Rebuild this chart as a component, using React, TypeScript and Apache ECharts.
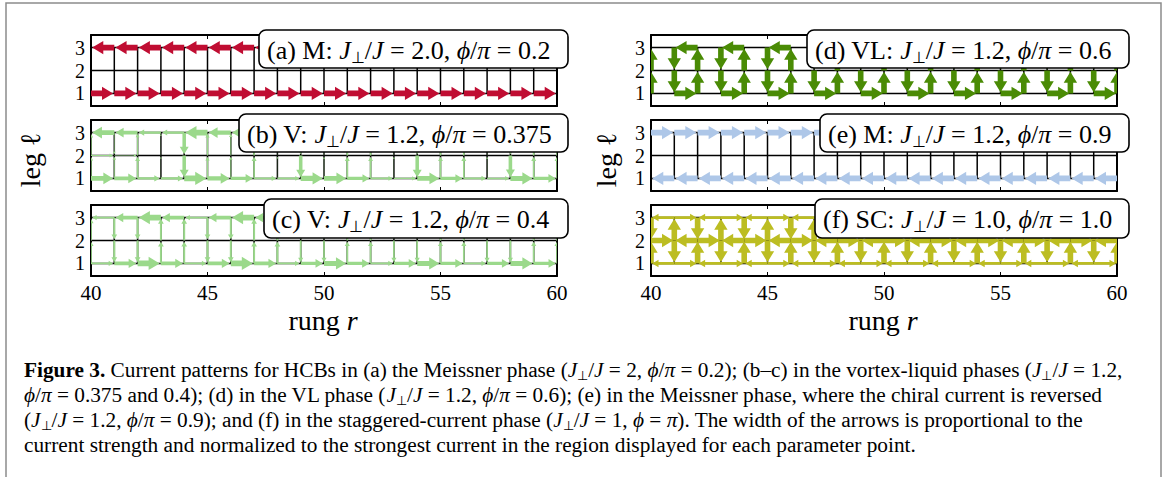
import React, { useEffect, useRef } from "react";
import * as echarts from "echarts";

// ---------- data ----------
const rungX = [40, 41, 42, 43, 44, 45, 46, 47, 48, 49, 50, 51, 52, 53, 54, 55, 56, 57, 58, 59, 60];
const bondX = [40, 41, 42, 43, 44, 45, 46, 47, 48, 49, 50, 51, 52, 53, 54, 55, 56, 57, 58, 59];
const xTickValues = [40, 45, 50, 55, 60];
const legValues = [1, 2, 3];

// (a) Meissner, J⊥/J = 2.0, φ/π = 0.2  (positive = rightward / upward)
const aLeg1 = [1, 1, 1, 1, 1, 1, 1, 1, 1, 1, 1, 1, 1, 1, 1, 1, 1, 1, 1, 1];
const aLeg2 = [0, 0, 0, 0, 0, 0, 0, 0, 0, 0, 0, 0, 0, 0, 0, 0, 0, 0, 0, 0];
const aLeg3 = [-1, -1, -1, -1, -1, -1, -1, -1, -1, -1, -1, -1, -1, -1, -1, -1, -1, -1, -1, -1];
const aRung12 = [0, 0, 0, 0, 0, 0, 0, 0, 0, 0, 0, 0, 0, 0, 0, 0, 0, 0, 0, 0, 0];
const aRung23 = [0, 0, 0, 0, 0, 0, 0, 0, 0, 0, 0, 0, 0, 0, 0, 0, 0, 0, 0, 0, 0];

// (b) V, J⊥/J = 1.2, φ/π = 0.375
const bLeg1 = [0.86, 0.69, 0.4, 0.37, 1.0, 0.77, 0.6, 0.31, 0.28, 0.91, 0.85, 0.56, 0.28, 0.24, 0.87, 0.59, 0.3, 0.26, 0.9, 0.61];
const bLeg2 = [0.2, 0.1, 0, 0, 0, 0, 0, 0, 0, 0, 0, 0, 0, 0, 0, 0, 0, 0, 0, 0];
const bLeg3 = [-0.86, -0.69, -0.4, -0.37, -1.0, -0.77, -0.6, -0.31, -0.28, -0.91, -0.85, -0.56, -0.28, -0.24, -0.87, -0.59, -0.3, -0.26, -0.9, -0.61];
const bRung12 = [0.23, 0.17, 0.29, 0.03, -0.63, 0.23, 0.17, 0.29, 0.03, -0.63, 0.06, 0.29, 0.28, 0.04, -0.63, 0.28, 0.29, 0.04, -0.64, 0.29, 0.28];
const bRung23 = [0.23, -0.1, 0.2, 0.03, -0.63, 0.23, 0.17, 0.29, 0.03, -0.63, 0.06, 0.29, 0.28, 0.04, -0.63, 0.28, 0.29, 0.04, -0.64, 0.29, 0.28];

// (c) V, J⊥/J = 1.2, φ/π = 0.4
const cLeg1 = [0.3, 0.65, 1.0, 0.65, 0.3, 0.65, 1.0, 0.65, 0.3, 0.6, 0.9, 0.6, 0.3, 0.6, 0.9, 0.6, 0.3, 0.6, 0.9, 0.6];
const cLeg2 = [0, 0, 0, 0, 0, 0, 0, 0, 0, 0, 0, 0, 0, 0, 0, 0, 0, 0, 0, 0];
const cLeg3 = [-0.3, -0.65, -1.0, -0.65, -0.3, -0.65, -1.0, -0.65, -0.3, -0.6, -0.9, -0.6, -0.3, -0.6, -0.9, -0.6, -0.3, -0.6, -0.9, -0.6];
const cRung12 = [0.3, -0.35, -0.35, 0.35, 0.35, -0.35, -0.35, 0.35, 0.35, -0.3, -0.3, 0.3, 0.3, -0.3, -0.3, 0.3, 0.3, -0.3, -0.3, 0.3, 0.3];
const cRung23 = [0.3, -0.35, -0.35, 0.35, 0.35, -0.35, -0.35, 0.35, 0.35, -0.3, -0.3, 0.3, 0.3, -0.3, -0.3, 0.3, 0.3, -0.3, -0.3, 0.3, 0.3];

// (d) VL, J⊥/J = 1.2, φ/π = 0.6
const dLeg1 = [0, 1, 0, 1, 0, 1, 0, 1, 0, 1, 0, 1, 0, 1, 0, 1, 0, 1, 0, 1];
const dLeg2 = [0, 0, 0, 0, 0, 0, 0, 0, 0, 0, 0, 0, 0, 0, 0, 0, 0, 0, 0, 0];
const dLeg3 = [0, -1, 0, -1, 0, -1, 0, -1, 0, -1, 0, -1, 0, -1, 0, -1, 0, -1, 0, -1];
const dRung12 = [1, -1, 1, -1, 1, -1, 1, -1, 1, -1, 1, -1, 1, -1, 1, -1, 1, -1, 1, -1, 1];
const dRung23 = [1, -1, 1, -1, 1, -1, 1, -1, 1, -1, 1, -1, 1, -1, 1, -1, 1, -1, 1, -1, 1];

// (e) M (reversed chiral current), J⊥/J = 1.2, φ/π = 0.9
const eLeg1 = [-1, -1, -1, -1, -1, -1, -1, -1, -1, -1, -1, -1, -1, -1, -1, -1, -1, -1, -1, -1];
const eLeg2 = [0, 0, 0, 0, 0, 0, 0, 0, 0, 0, 0, 0, 0, 0, 0, 0, 0, 0, 0, 0];
const eLeg3 = [1, 1, 1, 1, 1, 1, 1, 1, 1, 1, 1, 1, 1, 1, 1, 1, 1, 1, 1, 1];
const eRung12 = [0, 0, 0, 0, 0, 0, 0, 0, 0, 0, 0, 0, 0, 0, 0, 0, 0, 0, 0, 0, 0];
const eRung23 = [0, 0, 0, 0, 0, 0, 0, 0, 0, 0, 0, 0, 0, 0, 0, 0, 0, 0, 0, 0, 0];

// (f) SC, J⊥/J = 1.0, φ/π = 1.0
const fLeg1 = [-0.5, 0.5, -0.5, 0.5, -0.5, 0.5, -0.5, 0.5, -0.5, 0.5, -0.5, 0.5, -0.5, 0.5, -0.5, 0.5, -0.5, 0.5, -0.5, 0.5];
const fLeg2 = [1, -1, 1, -1, 1, -1, 1, -1, 1, -1, 1, -1, 1, -1, 1, -1, 1, -1, 1, -1];
const fLeg3 = [-0.5, 0.5, -0.5, 0.5, -0.5, 0.5, -0.5, 0.5, -0.5, 0.5, -0.5, 0.5, -0.5, 0.5, -0.5, 0.5, -0.5, 0.5, -0.5, 0.5];
const fRung12 = [1, -1, 1, -1, 1, -1, 1, -1, 1, -1, 1, -1, 1, -1, 1, -1, 1, -1, 1, -1, 1];
const fRung23 = [-1, 1, -1, 1, -1, 1, -1, 1, -1, 1, -1, 1, -1, 1, -1, 1, -1, 1, -1, 1, -1];

const panelLabels = [
  "{n|(a) M: }{i|J}{s|⊥}{n|/}{i|J}{n| = 2.0, }{i|ϕ}{n|/}{i|π}{n| = 0.2}",
  "{n|(b) V: }{i|J}{s|⊥}{n|/}{i|J}{n| = 1.2, }{i|ϕ}{n|/}{i|π}{n| = 0.375}",
  "{n|(c) V: }{i|J}{s|⊥}{n|/}{i|J}{n| = 1.2, }{i|ϕ}{n|/}{i|π}{n| = 0.4}",
  "{n|(d) VL: }{i|J}{s|⊥}{n|/}{i|J}{n| = 1.2, }{i|ϕ}{n|/}{i|π}{n| = 0.6}",
  "{n|(e) M: }{i|J}{s|⊥}{n|/}{i|J}{n| = 1.2, }{i|ϕ}{n|/}{i|π}{n| = 0.9}",
  "{n|(f) SC: }{i|J}{s|⊥}{n|/}{i|J}{n| = 1.0, }{i|ϕ}{n|/}{i|π}{n| = 1.0}",
];

const captionLines = [
  "{b|Figure 3.}{n| Current patterns for HCBs in (a) the Meissner phase (}{i|J}{s|⊥}{n|/}{i|J}{n| = 2, }{i|ϕ}{n|/}{i|π}{n| = 0.2); (b–c) in the vortex-liquid phases (}{i|J}{s|⊥}{n|/}{i|J}{n| = 1.2,}",
  "{i|ϕ}{n|/}{i|π}{n| = 0.375 and 0.4); (d) in the VL phase (}{i|J}{s|⊥}{n|/}{i|J}{n| = 1.2, }{i|ϕ}{n|/}{i|π}{n| = 0.6); (e) in the Meissner phase, where the chiral current is reversed}",
  "{n|(}{i|J}{s|⊥}{n|/}{i|J}{n| = 1.2, }{i|ϕ}{n|/}{i|π}{n| = 0.9); and (f) in the staggered-current phase (}{i|J}{s|⊥}{n|/}{i|J}{n| = 1, }{i|ϕ}{n| = }{i|π}{n|). The width of the arrows is proportional to the}",
  "{n|current strength and normalized to the strongest current in the region displayed for each parameter point.}",
];

const panelData = [
  { leg1: aLeg1, leg2: aLeg2, leg3: aLeg3, r12: aRung12, r23: aRung23 },
  { leg1: bLeg1, leg2: bLeg2, leg3: bLeg3, r12: bRung12, r23: bRung23 },
  { leg1: cLeg1, leg2: cLeg2, leg3: cLeg3, r12: cRung12, r23: cRung23 },
  { leg1: dLeg1, leg2: dLeg2, leg3: dLeg3, r12: dRung12, r23: dRung23 },
  { leg1: eLeg1, leg2: eLeg2, leg3: eLeg3, r12: eRung12, r23: eRung23 },
  { leg1: fLeg1, leg2: fLeg2, leg3: fLeg3, r12: fRung12, r23: fRung23 },
];

// ---------- layout / style ----------
const FONT = "Liberation Serif";
const GRID_W = 466;
const GRID_H = 71;
const layout = [
  { left: 91, top: 35, color: "#c00d32", box: [259, 30, 309, 38], bottom: false },
  { left: 91, top: 120, color: "#9bd98b", box: [239, 114, 329, 38], bottom: false },
  { left: 91, top: 205, color: "#9bd98b", box: [264, 199, 304, 39], bottom: true },
  { left: 651, top: 35, color: "#4a8b05", box: [807, 30, 322, 38], bottom: false },
  { left: 651, top: 120, color: "#aec7e8", box: [820, 114, 309, 38], bottom: false },
  { left: 651, top: 205, color: "#bcbd22", box: [815, 199, 314, 39], bottom: true },
];
const MAXW = 5.6;

function arrowRender(color: string) {
  return (_params: any, api: any) => {
    const c = api.value(4);
    if (Math.abs(c) < 0.03) return { type: "group", children: [] };
    let p0 = api.coord([api.value(0), api.value(1)]);
    let p1 = api.coord([api.value(2), api.value(3)]);
    if (c < 0) {
      const t = p0;
      p0 = p1;
      p1 = t;
    }
    const dx = p1[0] - p0[0];
    const dy = p1[1] - p0[1];
    const L = Math.hypot(dx, dy);
    const ux = dx / L;
    const uy = dy / L;
    const nx = -uy;
    const ny = ux;
    const w = MAXW * Math.abs(c);
    const hw = w / 2;
    const hh = (2.1 * w + 1.6) / 2;
    const hl = Math.min(1.7 * w + 1.6, L * 0.6);
    const tipD = L * 0.95;
    const tx = p0[0] + ux * tipD;
    const ty = p0[1] + uy * tipD;
    const bx = tx - ux * hl;
    const by = ty - uy * hl;
    const points = [
      [p0[0] + nx * hw, p0[1] + ny * hw],
      [bx + nx * hw, by + ny * hw],
      [bx + nx * hh, by + ny * hh],
      [tx, ty],
      [bx - nx * hh, by - ny * hh],
      [bx - nx * hw, by - ny * hw],
      [p0[0] - nx * hw, p0[1] - ny * hw],
    ];
    return { type: "polygon", shape: { points }, style: { fill: color } };
  };
}

function latticeRender(_params: any, api: any) {
  const p0 = api.coord([api.value(0), api.value(1)]);
  const p1 = api.coord([api.value(2), api.value(3)]);
  return {
    type: "line",
    shape: { x1: p0[0], y1: p0[1], x2: p1[0], y2: p1[1] },
    style: { stroke: "#000", lineWidth: 1.5 },
  };
}

function buildOption() {
  const grid: any[] = [];
  const xAxis: any[] = [];
  const yAxis: any[] = [];
  const series: any[] = [];
  const graphic: any[] = [];

  const latticeData: number[][] = [];
  legValues.forEach((l) => latticeData.push([rungX[0], l, rungX[rungX.length - 1], l]));
  rungX.forEach((x) => latticeData.push([x, legValues[0], x, legValues[legValues.length - 1]]));

  const richLabel = {
    n: { fontFamily: FONT, fontSize: 26, color: "#000", lineHeight: 30 },
    i: { fontFamily: FONT, fontStyle: "italic", fontSize: 26, color: "#000", lineHeight: 30 },
    s: { fontFamily: FONT, fontSize: 16, color: "#000", lineHeight: 16, verticalAlign: "bottom" },
  };

  layout.forEach((lay, k) => {
    grid.push({ left: lay.left, top: lay.top, width: GRID_W, height: GRID_H, show: false });
    const axisLine = { show: true, onZero: false, lineStyle: { color: "#000", width: 2 } };
    xAxis.push({
      type: "value", gridIndex: k, min: 40, max: 60, interval: 5, position: "bottom",
      axisLine, splitLine: { show: false },
      axisTick: { show: true, inside: true, length: 4, lineStyle: { color: "#000", width: 1 } },
      axisLabel: { show: lay.bottom, fontFamily: FONT, fontSize: 21, color: "#000", margin: 6 },
    });
    xAxis.push({
      type: "value", gridIndex: k, min: 40, max: 60, interval: 5, position: "top",
      axisLine, splitLine: { show: false },
      axisTick: { show: true, inside: true, length: 4, lineStyle: { color: "#000", width: 1 } },
      axisLabel: { show: false },
    });
    yAxis.push({
      type: "value", gridIndex: k, min: 0.45, max: 3.55, position: "left",
      axisLine, splitLine: { show: false },
      axisTick: { show: true, inside: true, length: 4, customValues: legValues, lineStyle: { color: "#000", width: 1 } },
      axisLabel: { show: true, customValues: legValues, fontFamily: FONT, fontSize: 20, color: "#000", margin: 6 },
    });
    yAxis.push({
      type: "value", gridIndex: k, min: 0.45, max: 3.55, position: "right",
      axisLine, splitLine: { show: false },
      axisTick: { show: true, inside: true, length: 4, customValues: legValues, lineStyle: { color: "#000", width: 1 } },
      axisLabel: { show: false },
    });

    series.push({
      type: "custom", name: "lattice" + k, xAxisIndex: 2 * k, yAxisIndex: 2 * k,
      renderItem: latticeRender, data: latticeData, z: 2, clip: true, silent: true,
      encode: { x: [0, 2], y: [1, 3] },
    });

    const pd = panelData[k];
    const bonds: number[][] = [];
    bondX.forEach((x, i) => {
      bonds.push([x, 1, x + 1, 1, pd.leg1[i]]);
      bonds.push([x, 2, x + 1, 2, pd.leg2[i]]);
      bonds.push([x, 3, x + 1, 3, pd.leg3[i]]);
    });
    rungX.forEach((x, i) => {
      bonds.push([x, 1, x, 2, pd.r12[i]]);
      bonds.push([x, 2, x, 3, pd.r23[i]]);
    });
    series.push({
      type: "custom", name: "current" + k, xAxisIndex: 2 * k, yAxisIndex: 2 * k,
      renderItem: arrowRender(lay.color), data: bonds, z: 3, clip: true, silent: true,
      encode: { x: [0, 2], y: [1, 3] },
    });

    const [bx, by, bw, bh] = lay.box;
    graphic.push({
      type: "rect", z: 100, zlevel: 1, shape: { x: bx, y: by, width: bw, height: bh, r: 7 },
      style: { fill: "#fff", stroke: "#000", lineWidth: 1.6 },
    });
    graphic.push({
      type: "text", z: 101, zlevel: 1, x: bx + 8, y: by + bh / 2 + 1,
      style: { text: panelLabels[k], rich: richLabel, align: "left", verticalAlign: "middle" },
    });
  });

  // axis titles
  [[30, 160], [606, 160]].forEach(([x, y]) => {
    graphic.push({
      type: "text", x, y, rotation: Math.PI / 2, z: 100,
      style: { text: "leg ℓ", fontFamily: FONT, fontSize: 28, fill: "#000", align: "center", verticalAlign: "middle" },
    });
  });
  const titleRich = {
    n: { fontFamily: FONT, fontSize: 28, color: "#000" },
    i: { fontFamily: FONT, fontSize: 28, fontStyle: "italic", color: "#000" },
  };
  graphic.push({
    type: "text", x: 323, y: 320, z: 100,
    style: { text: "{n|rung }{i|r}", rich: titleRich, align: "center", verticalAlign: "middle" },
  });
  graphic.push({
    type: "text", x: 883, y: 320, z: 100,
    style: { text: "{n|rung }{i|r}", rich: titleRich, align: "center", verticalAlign: "middle" },
  });

  // caption
  const CS = 21.3;
  const capRich = {
    n: { fontFamily: FONT, fontSize: CS, color: "#000", lineHeight: 24 },
    b: { fontFamily: FONT, fontSize: CS, fontWeight: "bold", color: "#000", lineHeight: 24 },
    i: { fontFamily: FONT, fontSize: CS, fontStyle: "italic", color: "#000", lineHeight: 24 },
    s: { fontFamily: FONT, fontSize: 13, color: "#000", lineHeight: 13, verticalAlign: "bottom" },
  };
  captionLines.forEach((t, i) => {
    graphic.push({
      type: "text", x: 24, y: 370 + i * 25, z: 100,
      style: { text: t, rich: capRich, align: "left", verticalAlign: "middle" },
    });
  });

  // frame
  graphic.push({
    type: "rect", z: 0, shape: { x: 6, y: 3, width: 1155, height: 500 },
    style: { fill: "none", stroke: "#8c8c8c", lineWidth: 1.5 },
  });

  return {
    animation: false,
    backgroundColor: "#fff",
    textStyle: { fontFamily: FONT },
    grid, xAxis, yAxis, series, graphic,
  };
}

export default function App() {
  const ref = useRef<HTMLDivElement>(null);
  useEffect(() => {
    if (!ref.current) return;
    const chart = echarts.init(ref.current, undefined, { renderer: "svg" });
    chart.setOption(buildOption() as any);
    return () => chart.dispose();
  }, []);
  return (
    <div
      ref={ref}
      style={{ position: "fixed", left: 0, top: 0, width: 1168, height: 477, background: "#fff" }}
    />
  );
}
